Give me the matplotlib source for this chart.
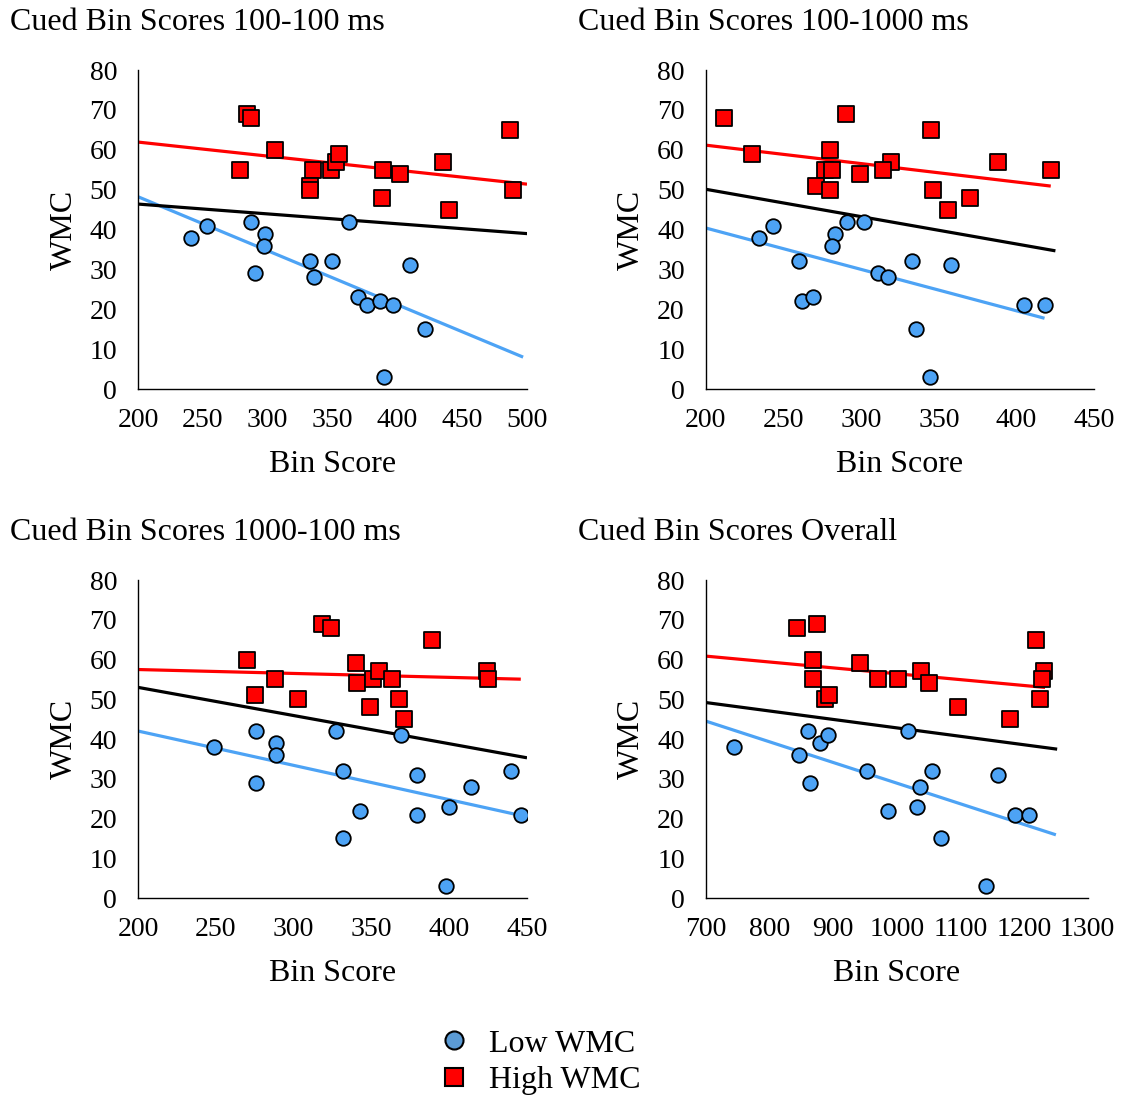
import matplotlib
matplotlib.use("Agg")
import matplotlib.pyplot as plt
import numpy as np
from matplotlib.lines import Line2D

plt.rcParams["font.family"] = ["Liberation Serif", "DejaVu Serif"]

titles = ["Cued Bin Scores 100-100 ms", "Cued Bin Scores 100-1000 ms",
          "Cued Bin Scores 1000-100 ms", "Cued Bin Scores Overall"]

# low WMC group (circles)
low_x = [
    [241, 253, 287, 298, 297, 290, 333, 336, 350, 363, 370, 377, 387, 397, 410, 421, 390],
    [234, 243, 260, 262, 269, 283, 281, 291, 302, 311, 317, 333, 335, 344, 358, 405, 418],
    [249, 276, 276, 289, 289, 327, 332, 332, 343, 369, 379, 379, 400, 398, 414, 440, 446],
    [744, 846, 861, 864, 880, 892, 954, 986, 1017, 1036, 1032, 1056, 1069, 1141, 1159, 1186, 1208],
]
low_y = [
    [38, 41, 42, 39, 36, 29, 32, 28, 32, 42, 23, 21, 22, 21, 31, 15, 3],
    [38, 41, 32, 22, 23, 39, 36, 42, 42, 29, 28, 32, 15, 3, 31, 21, 21],
    [38, 42, 29, 39, 36, 42, 32, 15, 22, 41, 31, 21, 23, 3, 28, 32, 21],
    [38, 36, 42, 29, 39, 41, 32, 22, 42, 28, 23, 32, 15, 3, 31, 21, 21],
]

# high WMC group (squares)
high_x = [
    [284, 287, 306, 279, 335, 333, 333, 349, 353, 355, 389, 388, 402, 435, 440, 487, 489],
    [212, 230, 290, 280, 277, 281, 271, 280, 299, 319, 314, 345, 346, 356, 370, 388, 422],
    [318, 324, 270, 288, 275, 303, 340, 341, 349, 351, 355, 363, 368, 371, 389, 424, 425],
    [843, 875, 869, 868, 888, 894, 942, 971, 1002, 1038, 1050, 1096, 1178, 1218, 1231, 1228, 1225],
]
high_y = [
    [69, 68, 60, 55, 55, 51, 50, 55, 57, 59, 55, 48, 54, 57, 45, 65, 50],
    [68, 59, 69, 60, 55, 55, 51, 50, 54, 57, 55, 65, 50, 45, 48, 57, 55],
    [69, 68, 60, 55, 51, 50, 59, 54, 48, 55, 57, 55, 50, 45, 65, 57, 55],
    [68, 69, 60, 55, 50, 51, 59, 55, 55, 57, 54, 48, 45, 65, 57, 55, 50],
]

# x extent of each trend line: (low, high, all)
trend_span = [
    [(200, 497), (200, 500), (200, 501)],
    [(200, 418), (200, 422), (200, 425)],
    [(200, 446), (200, 446), (200, 450)],
    [(700, 1250), (700, 1233), (700, 1252)],
]

x_limits = [(200, 500), (200, 450), (200, 450), (700, 1300)]
x_steps = [50, 50, 50, 100]

blue = "#4DA3F5"
red = "#FF0000"

fig = plt.figure(figsize=(11.28, 10.95), dpi=100)

positions = [
    [0.1223, 0.6447, 0.3449, 0.2913],
    [0.6256, 0.6447, 0.3445, 0.2913],
    [0.1223, 0.1799, 0.3449, 0.2904],
    [0.6256, 0.1799, 0.3387, 0.2904],
]
title_y = [0.979, 0.979, 0.514, 0.514]
title_x = [0.009, 0.512, 0.009, 0.512]


def trend(ax, xs, ys, span, color):
    k, b = np.polyfit(xs, ys, 1)
    xx = np.array(span, dtype=float)
    ax.plot(xx, k * xx + b, color=color, lw=2.3, solid_capstyle="butt", zorder=2)


for i in range(4):
    ax = fig.add_axes(positions[i])
    lx, ly = low_x[i], low_y[i]
    hx, hy = high_x[i], high_y[i]
    ax.scatter(lx, ly, s=110, marker="o", facecolor=blue, edgecolor="black",
               linewidth=1.3, zorder=3)
    ax.scatter(hx, hy, s=120, marker="s", facecolor=red, edgecolor="black",
               linewidth=1.3, zorder=3)
    trend(ax, lx, ly, trend_span[i][0], blue)
    trend(ax, hx, hy, trend_span[i][1], red)
    trend(ax, lx + hx, ly + hy, trend_span[i][2], "black")

    ax.set_xlim(*x_limits[i])
    ax.set_ylim(0, 80)
    ax.set_xticks(np.arange(x_limits[i][0], x_limits[i][1] + 1, x_steps[i]))
    ax.set_yticks(np.arange(0, 81, 10))
    ax.tick_params(length=0, labelsize=20)
    ax.tick_params(axis="y", pad=15)
    ax.tick_params(axis="x", pad=14)
    for s in ["top", "right"]:
        ax.spines[s].set_visible(False)
    for s in ["left", "bottom"]:
        ax.spines[s].set_linewidth(1.0)
    ax.set_xlabel("Bin Score", fontsize=23, labelpad=12)
    ax.set_ylabel("WMC", fontsize=23, labelpad=8)
    fig.text(title_x[i], title_y[i], titles[i], fontsize=23, ha="left", va="center")

handles = [
    Line2D([], [], marker="o", linestyle="none", markersize=13,
           markerfacecolor="#5B9BD5", markeredgecolor="black", markeredgewidth=1.5),
    Line2D([], [], marker="s", linestyle="none", markersize=13,
           markerfacecolor=red, markeredgecolor="black", markeredgewidth=1.5),
]
fig.legend(handles, ["Low WMC", "High WMC"], loc="center", bbox_to_anchor=(0.478, 0.030),
           frameon=False, fontsize=23, handletextpad=0.6, labelspacing=0.22,
           handlelength=1.0)

fig.savefig("out.png", dpi=100)
